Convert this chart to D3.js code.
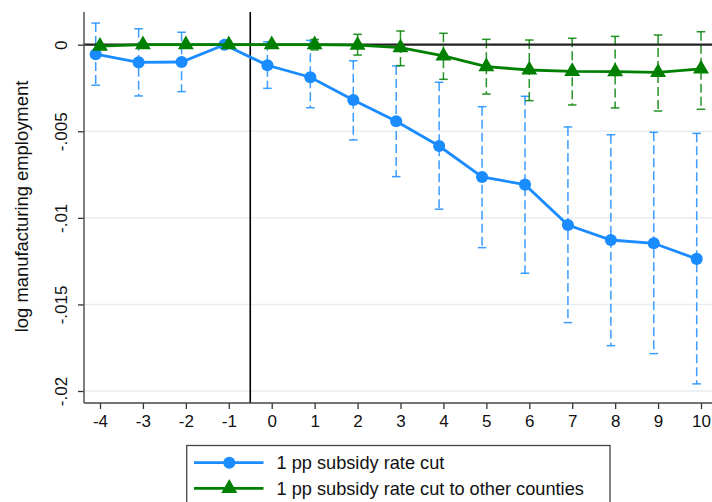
<!DOCTYPE html>
<html><head><meta charset="utf-8">
<script src="https://cdn.jsdelivr.net/npm/d3@7"></script>
<style>html,body{margin:0;padding:0;background:#fff;}svg{display:block;font-family:"Liberation Sans",Arial,sans-serif;}</style>
</head><body>
<svg id="c" width="712" height="502"></svg>
<script>
const periods = [-4,-3,-2,-1,0,1,2,3,4,5,6,7,8,9,10];
const periodLabels = ["-4","-3","-2","-1","0","1","2","3","4","5","6","7","8","9","10"];
const subsidyCut   = [-0.00055,-0.00102,-0.00100,0,-0.00119,-0.00188,-0.00319,-0.00442,-0.00585,-0.00764,-0.00808,-0.01041,-0.01128,-0.01147,-0.01237];
const subsidyCutLo = [-0.00234,-0.00296,-0.00271,null,-0.00252,-0.00364,-0.00550,-0.00762,-0.00950,-0.01172,-0.01320,-0.01605,-0.01738,-0.01784,-0.01959];
const subsidyCutHi = [0.00125,0.00092,0.00072,null,0.00017,0.00025,-0.00093,-0.00123,-0.00217,-0.00358,-0.00298,-0.00475,-0.00520,-0.00506,-0.00512];
const otherCut   = [-0.00008,0,0,0,0,0,-0.00003,-0.00017,-0.00065,-0.00127,-0.00146,-0.00154,-0.00156,-0.00160,-0.00140];
const otherCutLo = [null,null,null,null,-0.0001,-0.0003,-0.0006,-0.00121,-0.00200,-0.00285,-0.00323,-0.00348,-0.00365,-0.00383,-0.00373];
const otherCutHi = [null,null,null,null,0.0001,0.0003,0.0006,0.00079,0.00066,0.00031,0.00027,0.00037,0.00048,0.00056,0.00075];
const yTicks = [0,-0.005,-0.01,-0.015,-0.02];
const yTickLabels = ["0","-.005","-.01","-.015","-.02"];
const seriesNames = ["1 pp subsidy rate cut","1 pp subsidy rate cut to other counties"];
const eventLine = -0.5;

const blue = "#1a8cff", green = "#008000";
const svg = d3.select("#c");
const x = d3.scaleLinear().domain([-4,10]).range([100,701]);
const y = d3.scaleLinear().domain([0,-0.02]).range([44.7,391]);
const plotL = 84, plotR = 712, plotT = 12, plotB = 403;

// gridlines
svg.append("g").selectAll("line").data(yTicks.filter(d=>d!==0)).join("line")
  .attr("x1",plotL).attr("x2",plotR).attr("y1",d=>y(d)).attr("y2",d=>y(d))
  .attr("stroke","#e6eef1").attr("stroke-width",1.5);

// error bars
function errBars(vals, lo, hi, off, color){
  const g = svg.append("g").attr("stroke",color).attr("stroke-opacity",0.85).attr("fill","none");
  const data = periods.map((p,i)=>({p, lo:lo[i], hi:hi[i]})).filter(d=>d.lo!==null);
  g.selectAll("line.v").data(data).join("line").attr("class","v")
    .attr("x1",d=>x(d.p+off)).attr("x2",d=>x(d.p+off))
    .attr("y1",d=>y(d.hi)).attr("y2",d=>y(d.lo))
    .attr("stroke-width",1.5).attr("stroke-dasharray","9,4");
  ["hi","lo"].forEach(k=>{
    g.selectAll("line."+k).data(data).join("line").attr("class",k)
      .attr("x1",d=>x(d.p+off)-4.3).attr("x2",d=>x(d.p+off)+4.3)
      .attr("y1",d=>y(d[k])).attr("y2",d=>y(d[k])).attr("stroke-width",1.5);
  });
}
errBars(subsidyCut, subsidyCutLo, subsidyCutHi, -0.1, blue);
errBars(otherCut, otherCutLo, otherCutHi, 0, green);

// zero line
svg.append("line").attr("x1",plotL).attr("x2",plotR).attr("y1",y(0)).attr("y2",y(0))
  .attr("stroke","#222").attr("stroke-width",2.2);
// event line
svg.append("line").attr("x1",x(eventLine)).attr("x2",x(eventLine)).attr("y1",plotT).attr("y2",plotB)
  .attr("stroke","#000").attr("stroke-width",1.6);

// axes
const xAxis = svg.append("g").attr("transform",`translate(0,${plotB})`)
  .call(d3.axisBottom(x).tickValues(periods).tickSize(6).tickSizeOuter(0).tickFormat((d,i)=>periodLabels[i]));
xAxis.select(".domain").remove();
xAxis.selectAll(".tick line").attr("stroke","#333").attr("stroke-width",1.3);
xAxis.selectAll(".tick text").attr("y",null).attr("dy",null).attr("transform","translate(0,23.7)")
  .attr("font-size",17).attr("fill","#111").attr("font-family","Liberation Sans, Arial, sans-serif");
svg.append("line").attr("x1",plotL).attr("x2",plotR).attr("y1",plotB).attr("y2",plotB).attr("stroke","#444").attr("stroke-width",1.5);

const yAxis = svg.append("g").attr("transform",`translate(${plotL},0)`)
  .call(d3.axisLeft(y).tickValues(yTicks).tickSize(6).tickSizeOuter(0).tickFormat((d,i)=>yTickLabels[i]));
yAxis.select(".domain").remove();
yAxis.selectAll(".tick line").attr("stroke","#333").attr("stroke-width",1.3);
yAxis.selectAll(".tick text").attr("x",null).attr("dy",null).attr("text-anchor","middle")
  .attr("transform","translate(-17.5,0) rotate(-90)")
  .attr("font-size",17).attr("fill","#111").attr("font-family","Liberation Sans, Arial, sans-serif");
svg.append("line").attr("x1",plotL).attr("x2",plotL).attr("y1",plotT).attr("y2",plotB).attr("stroke","#555").attr("stroke-width",1.5);

svg.append("text").attr("transform","translate(28,206.5) rotate(-90)").attr("text-anchor","middle")
  .attr("font-size",18.4).attr("fill","#111").text("log manufacturing employment");

// series
const line = d3.line();
function series(vals, off, color, sym){
  const pts = periods.map((p,i)=>[x(p+off), y(vals[i])]);
  svg.append("path").attr("d",line(pts)).attr("fill","none").attr("stroke",color).attr("stroke-width",2.8);
  svg.append("g").selectAll("path").data(pts).join("path")
    .attr("transform",d=>`translate(${d[0]},${d[1]})`)
    .attr("d",d3.symbol().type(sym).size(sym===d3.symbolCircle?115:110)).attr("fill",color);
}
series(subsidyCut, -0.1, blue, d3.symbolCircle);
series(otherCut, 0, green, d3.symbolTriangle);

// legend
const lg = svg.append("g");
lg.append("rect").attr("x",186.7).attr("y",445.5).attr("width",423.3).attr("height",80)
  .attr("fill","#fff").attr("stroke","#444").attr("stroke-width",1.3);
const rows = [{name:seriesNames[0],color:blue,sym:d3.symbolCircle,y:462.7,size:115},{name:seriesNames[1],color:green,sym:d3.symbolTriangle,y:488.3,size:110}];
rows.forEach(r=>{
  lg.append("line").attr("x1",194).attr("x2",263.5).attr("y1",r.y).attr("y2",r.y).attr("stroke",r.color).attr("stroke-width",2.8);
  lg.append("path").attr("transform",`translate(229.3,${r.y})`).attr("d",d3.symbol().type(r.sym).size(r.size)).attr("fill",r.color);
  lg.append("text").attr("x",276.5).attr("y",r.y+6.6).attr("font-size",18.2).attr("fill","#111").text(r.name);
});
</script>
</body></html>
